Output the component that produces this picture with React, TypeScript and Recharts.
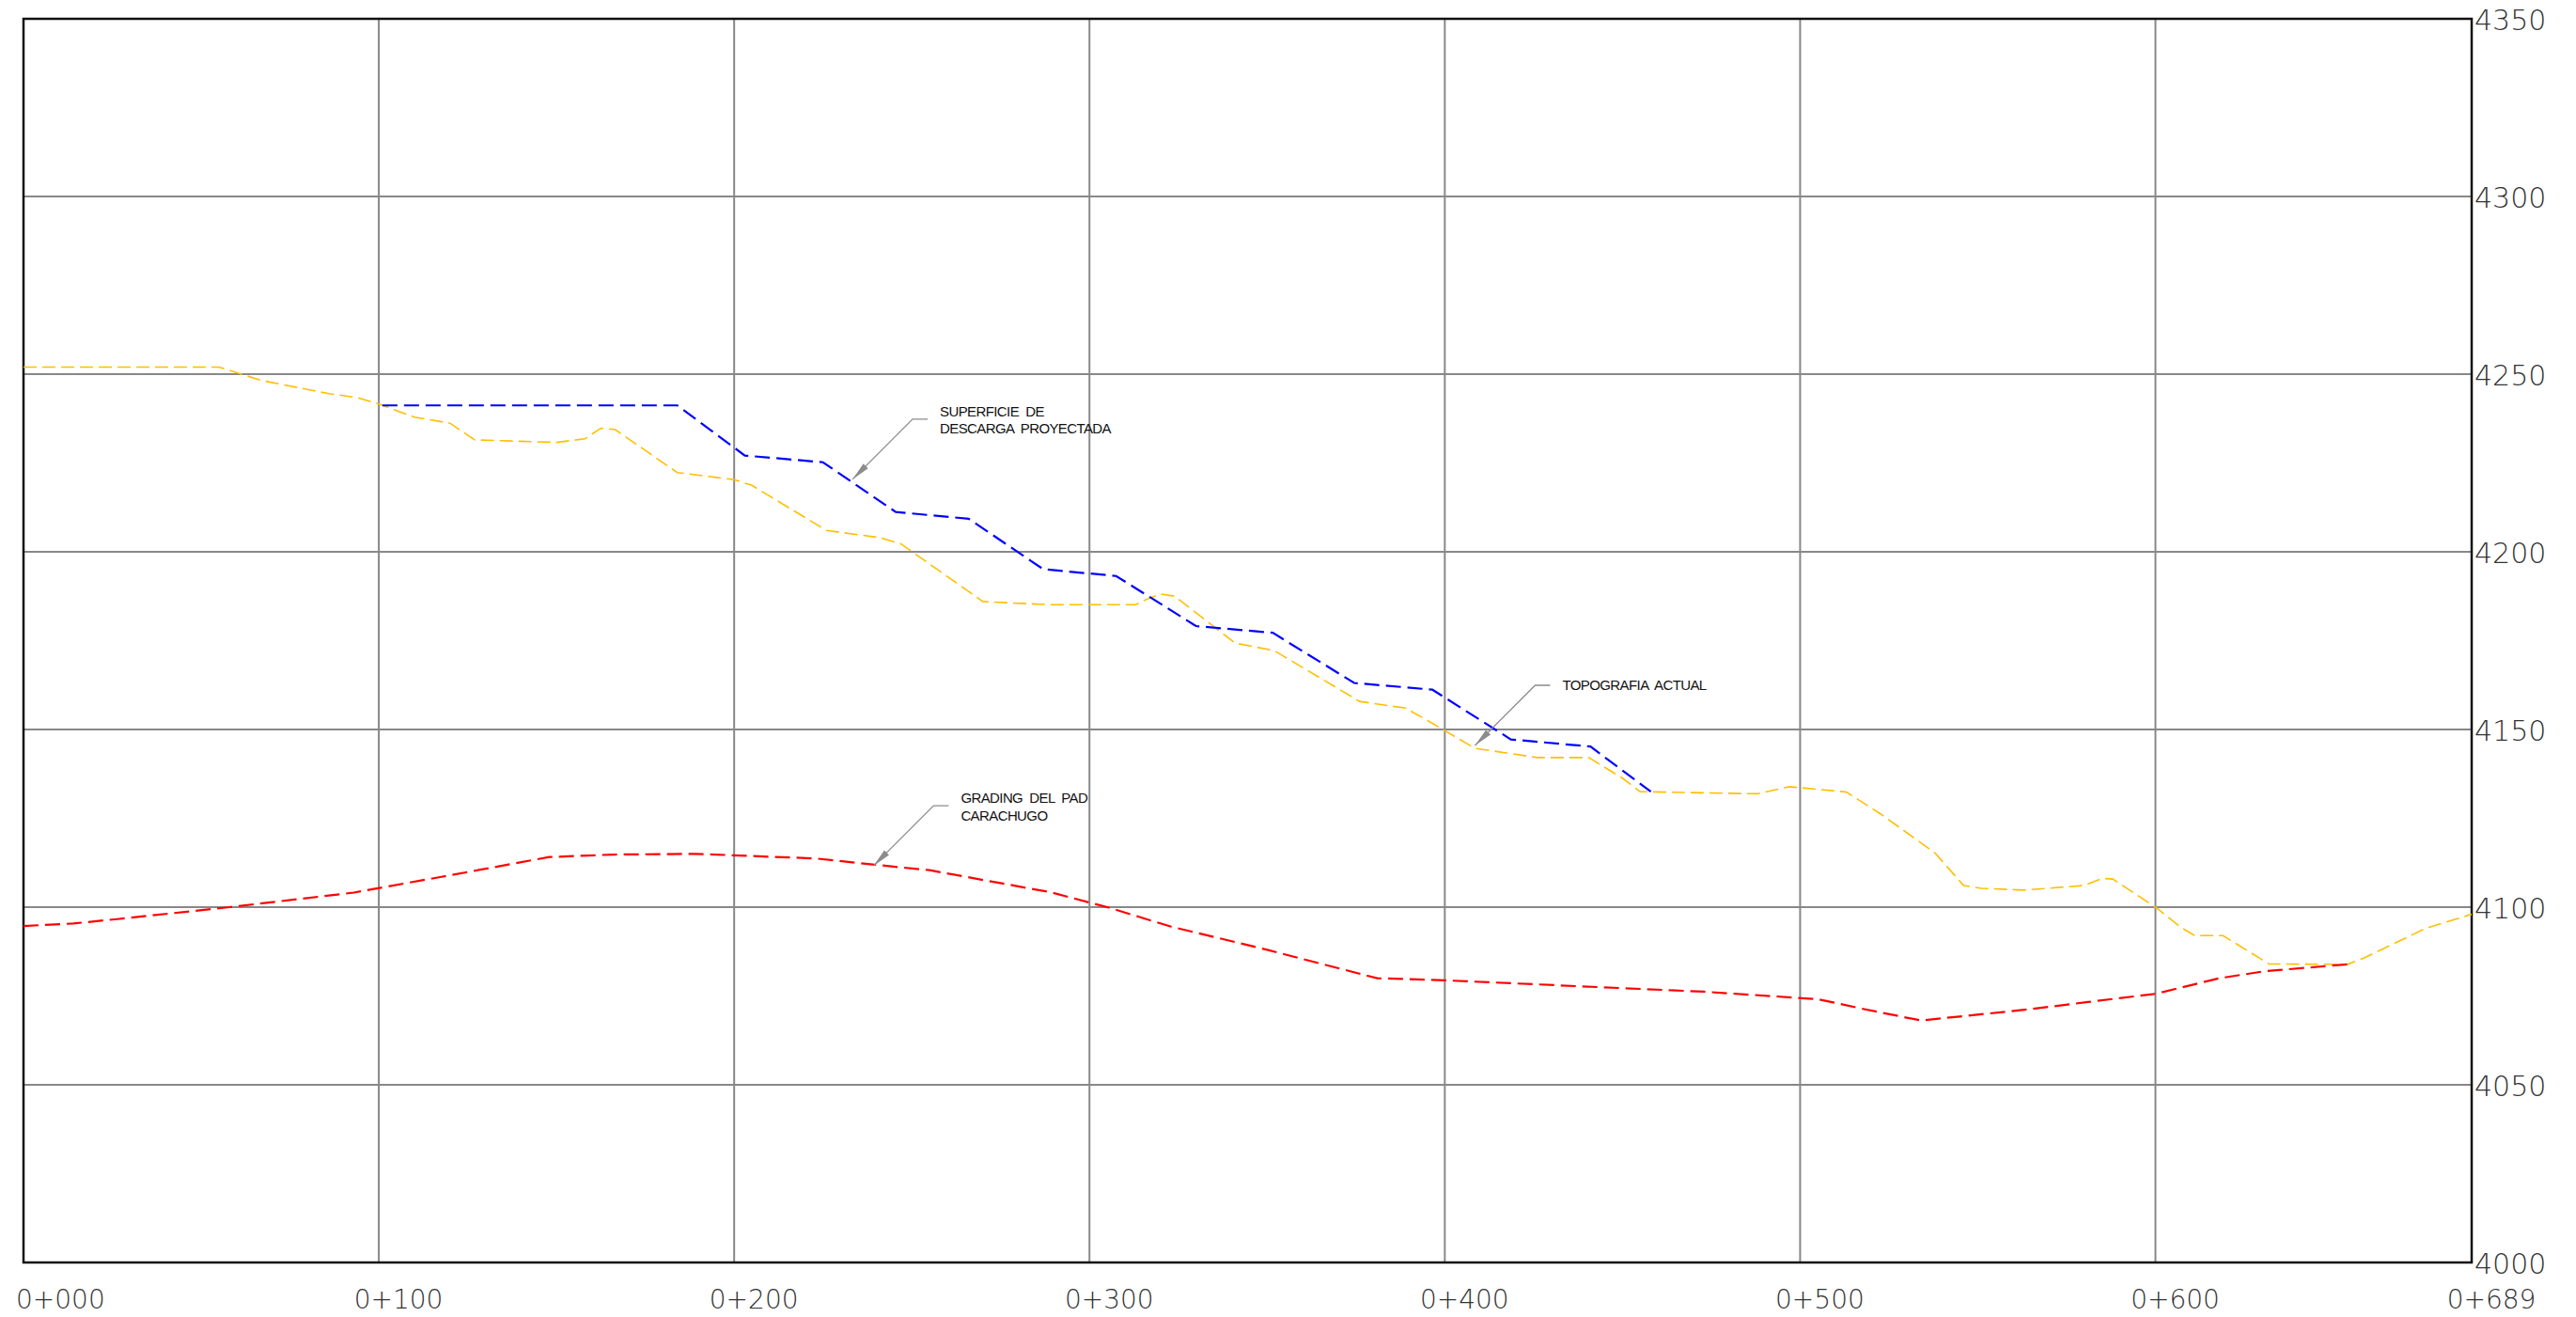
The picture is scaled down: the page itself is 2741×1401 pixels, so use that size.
import { LineChart, Line, XAxis, YAxis, CartesianGrid, ReferenceArea, ReferenceDot } from "recharts";

// station (m) / elevation (m)
const topoStations = [0, 55, 67, 86, 94, 100, 110, 120, 127, 150, 158, 162.5, 166.5, 184, 200, 205, 226, 241, 247, 270, 289, 313, 316, 320, 324, 341, 352, 376, 389, 395, 408.5, 426, 440.5, 450, 455, 488, 497, 513, 523, 538, 546, 551, 563, 580, 585, 588, 600, 607, 611, 619, 632, 654, 658.5, 676, 689];
const topoElev = [4252, 4252, 4248.2, 4244.5, 4243.4, 4241.6, 4237.9, 4236.2, 4231.5, 4230.8, 4231.8, 4234.8, 4234.4, 4222.3, 4220.3, 4218.7, 4206, 4204, 4202.2, 4186, 4185.1, 4185.1, 4186.6, 4188.1, 4187.5, 4174.3, 4172.2, 4157.9, 4156, 4152.6, 4144.7, 4142.1, 4142.1, 4136.3, 4132.5, 4131.9, 4133.9, 4132.4, 4126, 4115.2, 4106.1, 4105.3, 4104.8, 4106.1, 4108.1, 4107.9, 4100, 4094.4, 4092, 4092, 4084, 4083.9, 4085.6, 4094, 4098];

const descargaStations = [101, 184, 203, 225, 245.5, 266, 287, 307.5, 330, 351.6, 374.5, 396.5, 418.6, 441, 458];
const descargaElev = [4241.2, 4241.2, 4227.1, 4225.2, 4211.2, 4209.3, 4195.1, 4193.2, 4179.1, 4177.2, 4163.1, 4161.2, 4147.2, 4145.2, 4132.5];

const gradingStations = [0, 14, 27, 58, 93, 118, 148, 166, 189, 223, 239, 255, 289, 305, 323, 350, 381, 400, 473, 505, 518, 534, 564, 581, 600, 618, 631, 654];
const gradingElev = [4094.7, 4095.4, 4096.7, 4100, 4104.1, 4108.6, 4114.1, 4114.8, 4115, 4113.7, 4112, 4110.4, 4104.2, 4100, 4094.5, 4088, 4080, 4079.4, 4076.2, 4074.1, 4071.3, 4068.1, 4071.2, 4073.3, 4075.6, 4080, 4082, 4083.9];

const xTicks = [0, 100, 200, 300, 400, 500, 600, 689];
const yTicks = [4000, 4050, 4100, 4150, 4200, 4250, 4300, 4350];

// callouts: arrow tip (station, elevation) + text lines
const callouts = [
    { s: 233.3, v: 4220.4, lines: ["SUPERFICIE  DE", "DESCARGA  PROYECTADA"] },
    { s: 408.5, v: 4145.5, lines: ["TOPOGRAFIA  ACTUAL"] },
    { s: 239.2, v: 4111.6, lines: ["GRADING  DEL  PAD", "CARACHUGO"] },
];

const toRows = (st: number[], el: number[]) => st.map((s, i) => ({ s, v: el[i] }));
const topoData = toRows(topoStations, topoElev);
const descargaData = toRows(descargaStations, descargaElev);
const gradingData = toRows(gradingStations, gradingElev);

const tickFont = "'DejaVu Sans', sans-serif";

const XTick = ({ x, y, payload, index }: any) => {
    const label = "0+" + String(payload.value).padStart(3, "0");
    const first = index === 0;
    return (
        <text x={first ? x - 8 : x + 21} y={y + 39} textAnchor={first ? "start" : "middle"} dominantBaseline="central"
            fontFamily={tickFont} fontWeight={200} fontSize={28} fill="#333">
            {label}
        </text>
    );
};

const YTick = ({ x, y, payload }: any) => (
    <text x={x + 3} y={y + 1} textAnchor="start" dominantBaseline="central"
        fontFamily={tickFont} fontWeight={200} fontSize={30} fill="#333">
        {payload.value}
    </text>
);

const Callout = (lines: string[]) => ({ cx, cy }: any) => {
    if (cx == null || cy == null) return <g />;
    const lineY0 = lines.length > 1 ? -67 : -59;
    return (
        <g>
            <polyline points={`${cx},${cy} ${cx + 64},${cy - 64} ${cx + 80},${cy - 64}`} fill="none" stroke="#8c8c8c" strokeWidth={1.3} />
            <polygon points={`${cx},${cy} ${cx + 16.6},${cy - 11.6} ${cx + 11.6},${cy - 16.6}`} fill="#8c8c8c" />
            {lines.map((t, i) => (
                <text key={i} x={cx + 93} y={cy + lineY0 + i * 18.5} fontFamily="'Liberation Sans Narrow', 'Liberation Sans', sans-serif"
                    fontSize={15} letterSpacing={-0.6} fill="#111" style={{ whiteSpace: "pre" }}>
                    {t}
                </text>
            ))}
        </g>
    );
};

export default function App() {
    return (
        <div style={{ position: "absolute", left: 0, top: 0, background: "#fff" }}>
            <LineChart width={2741} height={1401} margin={{ top: 20, right: 0, bottom: 0, left: 25 }}>
                <CartesianGrid stroke="#888" strokeWidth={2} />
                <XAxis type="number" dataKey="s" domain={[0, 689]} ticks={xTicks} interval={0} height={58}
                    axisLine={false} tickLine={false} tickSize={0} tickMargin={0} tick={<XTick />} allowDataOverflow />
                <YAxis type="number" dataKey="v" orientation="right" domain={[4000, 4350]} ticks={yTicks} interval={0} width={111}
                    axisLine={false} tickLine={false} tickSize={0} tickMargin={0} tick={<YTick />} allowDataOverflow />
                <Line data={topoData} dataKey="v" type="linear" stroke="#ffbf00" strokeWidth={1.6} strokeDasharray="14 6" dot={false} activeDot={false} isAnimationActive={false} />
                <Line data={descargaData} dataKey="v" type="linear" stroke="#0000ff" strokeWidth={2.2} strokeDasharray="16 7" dot={false} activeDot={false} isAnimationActive={false} />
                <Line data={gradingData} dataKey="v" type="linear" stroke="#ff0000" strokeWidth={2.2} strokeDasharray="16 7" dot={false} activeDot={false} isAnimationActive={false} />
                <ReferenceArea x1={0} x2={689} y1={4000} y2={4350} fill="none" fillOpacity={0} stroke="#111" strokeWidth={2.5} />
                {callouts.map((c, i) => (
                    <ReferenceDot key={i} x={c.s} y={c.v} r={0} shape={Callout(c.lines)} />
                ))}
            </LineChart>
        </div>
    );
}
